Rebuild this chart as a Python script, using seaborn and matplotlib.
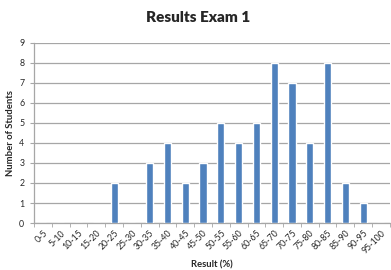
import matplotlib
matplotlib.use("Agg")
import matplotlib.pyplot as plt
import seaborn as sns
import pandas as pd
import numpy as np

categories = ["0-5", "5-10", "10-15", "15-20", "20-25", "25-30", "30-35", "35-40",
              "40-45", "45-50", "50-55", "55-60", "60-65", "65-70", "70-75", "75-80",
              "80-85", "85-90", "90-95", "95-100"]
students = [0, 0, 0, 0, 2, 0, 3, 4, 2, 3, 5, 4, 5, 8, 7, 4, 8, 2, 1, 0]
y_ticks = list(range(0, 10))

sns.set_style("white")
plt.rcParams['font.family'] = ['Lato', 'DejaVu Sans']

df = pd.DataFrame({"Result": categories, "Students": students})

fig = plt.figure(figsize=(3.91, 2.70), dpi=100)
ax = fig.add_axes([0.087, 0.174, 0.910, 0.667])
sns.barplot(data=df, x="Result", y="Students", color="#4F81BD", width=0.4,
            saturation=1, ax=ax, zorder=3)

ax.set_ylim(0, 9)
ax.set_xlim(-0.5, len(categories) - 0.5)
ax.set_yticks(y_ticks)
ax.set_yticklabels([str(t) for t in y_ticks], fontsize=6.3)
ax.yaxis.grid(True, color="#A6A6A6", linewidth=0.9, zorder=0)
ax.set_axisbelow(True)

ax.set_xticks(range(len(categories)))
ax.set_xticklabels(categories, rotation=45, ha="right", rotation_mode="anchor", fontsize=6.3)
ax.tick_params(axis="x", which="major", length=0, pad=4)
ax.set_xticks(np.arange(-0.5, len(categories), 1.0), minor=True)
ax.tick_params(axis="x", which="minor", length=3, color="#A6A6A6", direction="out", bottom=True)
ax.tick_params(axis="y", length=3, color="#A6A6A6", direction="out", left=True, pad=4)

for s in ["top", "right"]:
    ax.spines[s].set_visible(False)
for s in ["left", "bottom"]:
    ax.spines[s].set_color("#A6A6A6")
    ax.spines[s].set_linewidth(0.9)

ax.set_xlabel("Result (%)", fontsize=6.8, fontweight="bold", labelpad=4)
ax.set_ylabel("Number of Students", fontsize=6.8, fontweight="bold", labelpad=3)
fig.text(0.507, 0.935, "Results Exam 1", ha="center", va="center", fontsize=11,
         fontweight="heavy")

fig.savefig("out.png", dpi=100)
